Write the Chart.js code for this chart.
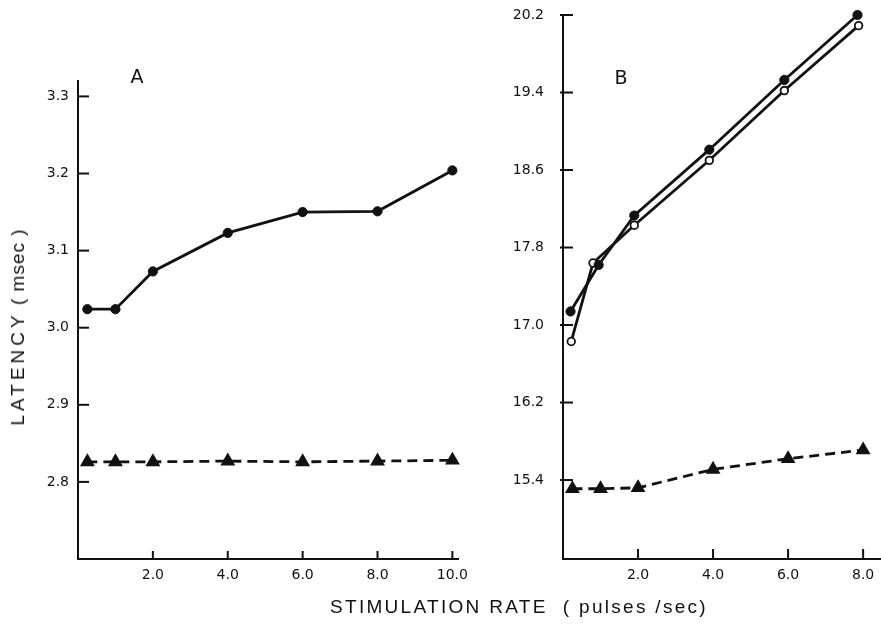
<!DOCTYPE html>
<html lang="en">
<head>
  <meta charset="UTF-8" />
  <title>Latency vs stimulation rate</title>
  <script src="https://cdn.jsdelivr.net/npm/chart.js"></script>
  <style>
    body {
      margin: 0;
      background: #fff;
      font-family: "Liberation Sans", Arial, sans-serif;
      color: #111;
    }
    #wrap {
      position: relative;
      width: 881px;
      height: 630px;
      overflow: hidden;
    }
    canvas {
      position: absolute;
      top: 0;
    }
    #chartA { left: 0; }
    #chartB { left: 500px; }
    .panel {
      position: absolute;
      font-family: "DejaVu Sans", sans-serif;
      font-size: 19px;
      transform: translate(-50%, -50%);
    }
    .ytitle {
      position: absolute;
      left: 18px;
      top: 327px;
      font-size: 19px;
      white-space: pre;
      transform: translate(-50%, -50%) rotate(-90deg);
      letter-spacing: 1px;
    }
    .ytitle .caps { letter-spacing: 4px; }
    .xtitle {
      position: absolute;
      left: 330px;
      top: 596px;
      font-size: 19px;
      white-space: pre;
      letter-spacing: 2.3px;
    }
  </style>
</head>
<body>
<div id="wrap">
  <canvas id="chartA" width="480" height="630"></canvas>
  <canvas id="chartB" width="381" height="630"></canvas>
  <div class="panel" style="left:137px; top:76px;">A</div>
  <div class="panel" style="left:621px; top:77px;">B</div>
  <div class="ytitle"><span class="caps">LATENCY</span> ( msec )</div>
  <div class="xtitle">STIMULATION RATE  ( pulses /sec)</div>
</div>

<script>
  // panel A
  const rateA = [0.25, 1, 2, 4, 6, 8, 10];
  const latencyA1 = [3.024, 3.024, 3.073, 3.123, 3.150, 3.151, 3.204];
  const latencyA2 = [2.826, 2.826, 2.826, 2.827, 2.826, 2.827, 2.828];
  const ticksAx = [2, 4, 6, 8, 10];
  const ticksAy = [2.8, 2.9, 3.0, 3.1, 3.2, 3.3];

  // panel B
  const rateB1 = [0.2, 0.95, 1.9, 3.9, 5.9, 7.85];
  const latencyB1 = [17.14, 17.62, 18.13, 18.81, 19.53, 20.20];
  const rateB2 = [0.22, 0.8, 1.9, 3.9, 5.9, 7.88];
  const latencyB2 = [16.83, 17.64, 18.03, 18.70, 19.42, 20.09];
  const rateB3 = [0.25, 1, 2, 4, 6, 8];
  const latencyB3 = [15.31, 15.31, 15.32, 15.51, 15.62, 15.71];
  const ticksBx = [2, 4, 6, 8];
  const ticksBy = [15.4, 16.2, 17.0, 17.8, 18.6, 19.4, 20.2];

  const INK = '#111';
  const pts = (xs, ys) => xs.map((x, i) => ({ x, y: ys[i] }));

  // tick marks drawn inward from the axis lines
  const innerTicks = {
    id: 'innerTicks',
    afterDraw(chart, args, opts) {
      const { ctx, chartArea, scales: { x, y } } = chart;
      ctx.save();
      ctx.strokeStyle = INK;
      ctx.lineWidth = 2;
      x.ticks.forEach((t, i) => {
        const px = x.getPixelForTick(i);
        ctx.beginPath();
        ctx.moveTo(px, chartArea.bottom);
        ctx.lineTo(px, chartArea.bottom - opts.x);
        ctx.stroke();
      });
      y.ticks.forEach((t, i) => {
        const py = y.getPixelForTick(i);
        ctx.beginPath();
        ctx.moveTo(chartArea.left - (opts.yOut || 0), py);
        ctx.lineTo(chartArea.left + opts.y, py);
        ctx.stroke();
      });
      ctx.restore();
    }
  };

  // no extra room for labels hanging past the ends of an axis
  function noLabelPadding(s) {
    s.paddingTop = 0;
    s.paddingBottom = 0;
    s.paddingLeft = 0;
    s.paddingRight = 0;
  }

  function solid(data, open) {
    return {
      data,
      borderColor: INK,
      borderWidth: 2.8,
      pointStyle: 'circle',
      pointRadius: open ? 3.8 : 4.6,
      pointBorderWidth: open ? 1.8 : 1,
      pointBackgroundColor: open ? '#fff' : INK,
      pointBorderColor: INK,
      tension: 0,
      clip: false
    };
  }

  function dashed(data) {
    return {
      data,
      borderColor: INK,
      borderWidth: 2.8,
      borderDash: [10, 6],
      pointStyle: 'triangle',
      pointRadius: 5.8,
      pointBackgroundColor: INK,
      pointBorderColor: INK,
      tension: 0,
      clip: false
    };
  }

  function makeOptions(cfg) {
    return {
      responsive: false,
      devicePixelRatio: 1,
      animation: false,
      events: [],
      layout: { padding: cfg.padding, autoPadding: false },
      plugins: {
        legend: { display: false },
        tooltip: { enabled: false },
        innerTicks: cfg.tickLen
      },
      scales: {
        x: {
          type: 'linear',
          min: cfg.xMin, max: cfg.xMax,
          afterBuildTicks: s => { s.ticks = cfg.xTicks.map(v => ({ value: v })); },
          afterFit: s => { s.height = cfg.xHeight; noLabelPadding(s); },
          grid: { display: false, drawTicks: false },
          border: { display: true, color: INK, width: 2 },
          ticks: {
            color: INK,
            padding: 8,
            maxRotation: 0,
            font: { family: 'DejaVu Sans', size: 14 },
            callback: v => v.toFixed(1)
          }
        },
        y: {
          min: cfg.yMin, max: cfg.yMax,
          afterBuildTicks: s => { s.ticks = cfg.yTicks.map(v => ({ value: v })); },
          afterFit: s => { s.width = cfg.yWidth; noLabelPadding(s); },
          grid: { display: false, drawTicks: false },
          border: { display: true, color: INK, width: 2 },
          ticks: {
            color: INK,
            padding: cfg.yPad,
            font: { family: 'DejaVu Sans', size: 14 },
            callback: v => v.toFixed(1)
          }
        }
      }
    };
  }

  new Chart(document.getElementById('chartA'), {
    type: 'line',
    data: {
      datasets: [
        solid(pts(rateA, latencyA1), false),
        dashed(pts(rateA, latencyA2))
      ]
    },
    options: makeOptions({
      padding: { top: 81, left: 0, right: 22, bottom: 0 },
      xMin: 0, xMax: 10.15, xTicks: ticksAx, xHeight: 71,
      yMin: 2.7, yMax: 3.32, yTicks: ticksAy, yWidth: 78, yPad: 9,
      tickLen: { x: 8, y: 11 }
    }),
    plugins: [innerTicks]
  });

  new Chart(document.getElementById('chartB'), {
    type: 'line',
    data: {
      datasets: [
        solid(pts(rateB1, latencyB1), false),
        solid(pts(rateB2, latencyB2), true),
        dashed(pts(rateB3, latencyB3))
      ]
    },
    options: makeOptions({
      padding: { top: 15, left: 0, right: 1, bottom: 0 },
      xMin: 0, xMax: 8.45, xTicks: ticksBx, xHeight: 71,
      yMin: 14.585, yMax: 20.2, yTicks: ticksBy, yWidth: 63, yPad: 19,
      tickLen: { x: 10, y: 10, yOut: 3 }
    }),
    plugins: [innerTicks]
  });
</script>
</body>
</html>
